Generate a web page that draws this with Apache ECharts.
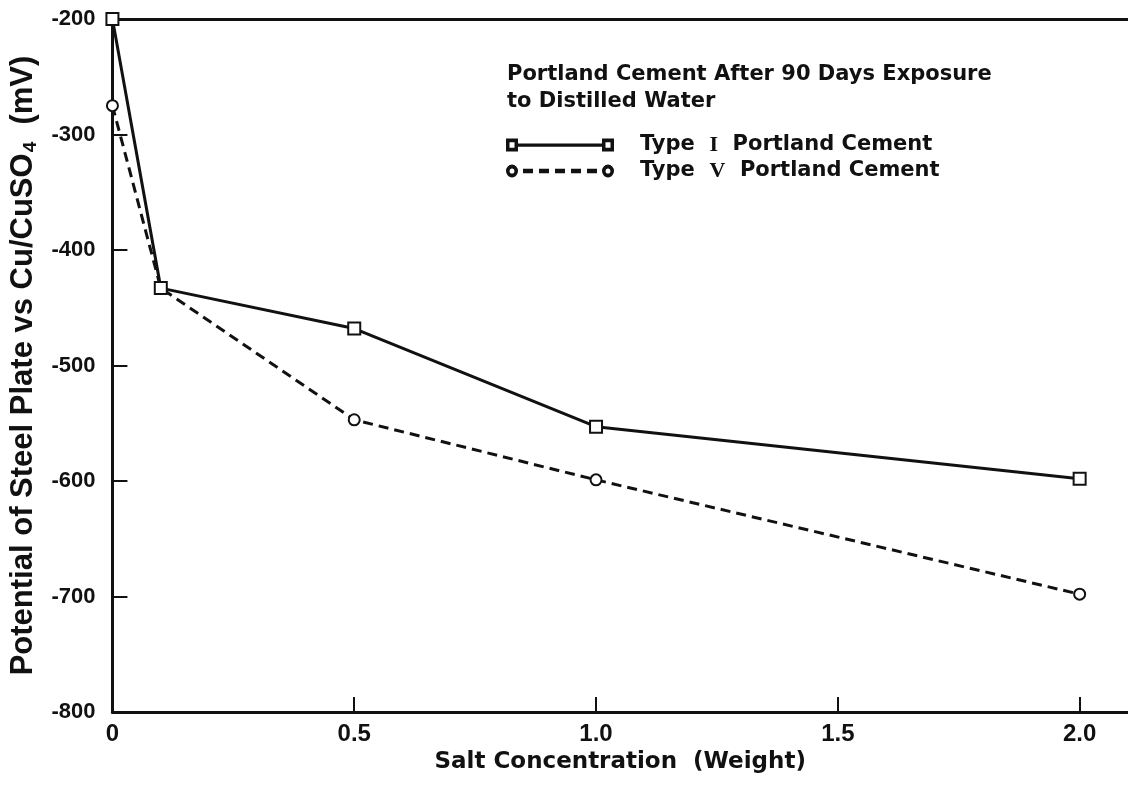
<!DOCTYPE html>
<html>
<head>
<meta charset="utf-8">
<script src="https://cdn.jsdelivr.net/npm/echarts@6/dist/echarts.min.js"></script>
<style>
html,body{margin:0;padding:0;background:#fff;}
#chart{width:1128px;height:788px;}
</style>
</head>
<body>
<div id="chart"></div>
<script>
// ---- data ----
const saltConcentration = [0, 0.1, 0.5, 1.0, 2.0];
const typeIValues = [-200, -433, -468, -553, -598];
const typeVValues = [-275, -433, -547, -599, -698];
const seriesNames = ['Type I Portland Cement', 'Type V Portland Cement'];
const legendTitle = 'Portland Cement After 90 Days Exposure\nto Distilled Water';
const xAxisTitle = 'Salt Concentration  (Weight)';
const yTicks = [-800, -700, -600, -500, -400, -300, -200];
const xTicks = [0, 0.5, 1.0, 1.5, 2.0];

const pairs = (xs, ys) => xs.map((x, i) => [x, ys[i]]);
const ARIAL = '"Liberation Sans", Arial, Helvetica, sans-serif';
const WIDE = '"DejaVu Sans", "Liberation Sans", sans-serif';
const INK = '#111';

// legend icons: marker - line - marker (108 x 12 box)
const sq = (x) => 'M' + x + ' 0 L' + (x + 12) + ' 0 L' + (x + 12) + ' 12 L' + x + ' 12 Z M' + (x + 3.5) + ' 3.5 L' + (x + 3.5) + ' 8.5 L' + (x + 8.5) + ' 8.5 L' + (x + 8.5) + ' 3.5 Z';
const iconTypeI = 'path://' + sq(0) + ' M12 4.5 L96 4.5 L96 7.5 L12 7.5 Z ' + sq(96);
let dashes = '';
for (let i = 0; i < 5; i++) {
  const s = 17 + i * 16;
  dashes += ' M' + s + ' 4 L' + (s + 10) + ' 4 L' + (s + 10) + ' 8 L' + s + ' 8 Z';
}
const circ = (cx) => 'M' + (cx - 6) + ' 6 A6 6 0 1 1 ' + (cx + 6) + ' 6 A6 6 0 1 1 ' + (cx - 6) + ' 6 Z M' + (cx - 2.4) + ' 6 A2.4 2.4 0 1 0 ' + (cx + 2.4) + ' 6 A2.4 2.4 0 1 0 ' + (cx - 2.4) + ' 6 Z';
const iconTypeV = 'path://' + circ(6) + dashes + ' ' + circ(102);

const chart = echarts.init(document.getElementById('chart'), null, {renderer: 'canvas'});
chart.setOption({
  backgroundColor: '#fff',
  animation: false,
  title: {
    text: legendTitle,
    left: 507,
    top: 61,
    padding: 0,
    textStyle: {fontFamily: WIDE, fontWeight: 'bold', fontSize: 21, lineHeight: 27, color: INK}
  },
  legend: {
    orient: 'vertical',
    left: 506,
    top: 132,
    padding: 0,
    itemGap: 0,
    itemWidth: 108,
    itemHeight: 13,
    symbolKeepAspect: false,
    itemStyle: {color: INK, borderWidth: 0},
    data: [
      {name: seriesNames[0], icon: iconTypeI},
      {name: seriesNames[1], icon: iconTypeV}
    ],
    formatter: function (name) {
      const m = name.match(/^Type (\S+) (.*)$/);
      return '{t|Type  }{r|' + m[1] + '}{t|  ' + m[2] + '}';
    },
    textStyle: {
      fontFamily: WIDE, fontWeight: 'bold', fontSize: 21, color: INK, lineHeight: 26,
      padding: [0, 0, 0, 21],
      rich: {
        t: {fontFamily: WIDE, fontWeight: 'bold', fontSize: 21, color: INK, lineHeight: 26},
        r: {fontFamily: '"Liberation Serif", "Times New Roman", serif', fontWeight: 'bold', fontSize: 22, color: INK, lineHeight: 26}
      }
    }
  },
  grid: {left: 110, right: -4, top: 19, bottom: 76, containLabel: false},
  xAxis: [{
    type: 'value',
    min: 0, max: 2.1, interval: 0.5,
    name: xAxisTitle,
    nameLocation: 'middle',
    nameGap: 38,
    nameTextStyle: {fontFamily: WIDE, fontWeight: 'bold', fontSize: 23, color: INK},
    axisLine: {show: true, onZero: false, lineStyle: {color: INK, width: 3}},
    axisTick: {show: true, inside: true, length: 15, lineStyle: {color: INK, width: 2}},
    axisLabel: {
      showMaxLabel: false,
      margin: 10,
      fontFamily: ARIAL, fontWeight: 'bold', fontSize: 24, color: INK,
      formatter: function (v) { return xTicks.indexOf(v) < 0 ? '' : (v === 0 ? '0' : v.toFixed(1)); }
    },
    splitLine: {show: false}
  }, {
    type: 'value',
    position: 'top',
    min: 0, max: 2.1,
    axisLine: {show: true, onZero: false, lineStyle: {color: INK, width: 3}},
    axisTick: {show: false},
    axisLabel: {show: false},
    splitLine: {show: false}
  }],
  yAxis: {
    type: 'value',
    min: yTicks[0], max: yTicks[yTicks.length - 1], interval: 100,
    name: '{a|Potential of Steel Plate vs Cu/CuSO}{s|4}{a|  (mV)}',
    nameLocation: 'middle',
    nameRotate: 90,
    nameGap: 67,
    nameTextStyle: {
      color: INK,
      rich: {
        a: {fontFamily: ARIAL, fontWeight: 'bold', fontSize: 31, lineHeight: 36, color: INK},
        s: {fontFamily: ARIAL, fontWeight: 'bold', fontSize: 19, color: INK, padding: [15, 0, 0, 1]}
      }
    },
    axisLine: {show: true, onZero: false, lineStyle: {color: INK, width: 3}},
    axisTick: {show: true, inside: true, length: 15, lineStyle: {color: INK, width: 2}},
    axisLabel: {margin: 17, fontFamily: ARIAL, fontWeight: 'bold', fontSize: 22, color: INK},
    splitLine: {show: false}
  },
  series: [{
    name: seriesNames[1],
    type: 'line',
    data: pairs(saltConcentration, typeVValues),
    clip: false,
    symbol: 'emptyCircle',
    symbolSize: 11,
    color: INK,
    itemStyle: {color: INK, borderColor: INK, borderWidth: 3},
    lineStyle: {color: INK, width: 3, type: [10, 6]},
    z: 2
  }, {
    name: seriesNames[0],
    type: 'line',
    data: pairs(saltConcentration, typeIValues),
    clip: false,
    symbol: 'emptyRect',
    symbolSize: 12,
    color: INK,
    itemStyle: {color: INK, borderColor: INK, borderWidth: 3},
    lineStyle: {color: INK, width: 3},
    z: 3
  }]
});
</script>
</body>
</html>
